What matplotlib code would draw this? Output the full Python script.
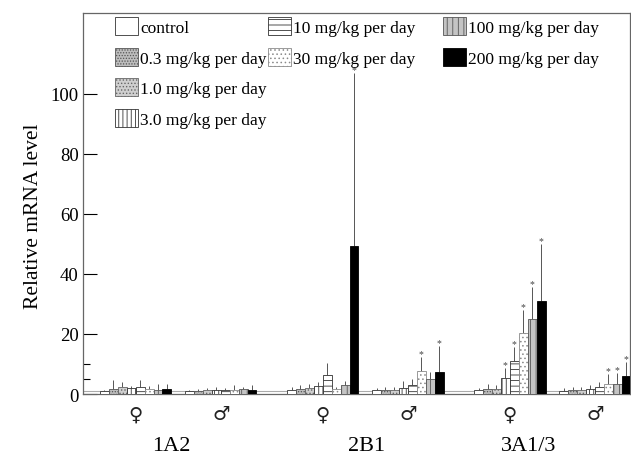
import numpy as np
import matplotlib
matplotlib.use("Agg")
import matplotlib.pyplot as plt
from matplotlib.patches import Patch
from matplotlib.transforms import blended_transform_factory

plt.rcParams['font.family'] = ['Liberation Serif', 'DejaVu Sans']
plt.rcParams['hatch.linewidth'] = 0.6

# doses (legend order)
doses = ["control", "0.3 mg/kg per day", "1.0 mg/kg per day", "3.0 mg/kg per day",
         "10 mg/kg per day", "30 mg/kg per day", "100 mg/kg per day", "200 mg/kg per day"]

genes = ["1A2", "2B1", "3A1/3"]
sexes = ["\u2640", "\u2642", "\u2640", "\u2642", "\u2640", "\u2642"]

# mean relative mRNA level, one row per gene/sex group
means = [
    [1.0, 1.6, 2.2, 1.9, 2.4, 1.8, 1.5, 1.6],    # 1A2 female
    [1.0, 1.1, 1.2, 1.3, 1.2, 1.4, 1.6, 1.3],    # 1A2 male
    [1.5, 1.8, 2.0, 2.8, 6.2, 1.8, 3.0, 49.3],   # 2B1 female
    [1.2, 1.3, 1.5, 2.0, 3.0, 7.8, 5.0, 7.5],    # 2B1 male
    [1.2, 1.6, 1.8, 5.5, 11.0, 20.3, 25.0, 31.0],  # 3A1/3 female
    [1.1, 1.3, 1.4, 1.6, 2.3, 3.5, 3.5, 6.0],    # 3A1/3 male
]
# top of the (upper) error bar
err_top = [
    [1.4, 4.6, 4.0, 2.7, 4.7, 2.6, 3.3, 3.4],
    [1.5, 1.8, 2.0, 2.2, 2.0, 3.0, 2.5, 3.0],
    [2.5, 3.0, 3.3, 4.0, 10.5, 2.5, 4.5, 107.0],
    [2.0, 2.2, 2.5, 4.5, 5.0, 12.5, 7.3, 16.0],
    [2.0, 3.2, 3.0, 8.7, 15.7, 28.0, 35.7, 50.0],
    [2.0, 2.3, 2.5, 3.0, 4.0, 6.7, 7.0, 10.7],
]
# bars marked with an asterisk
stars = [[], [], [7], [5, 7], [3, 4, 5, 6, 7], [5, 6, 7]]

faces = ["white", "#bdbdbd", "#cfcfcf", "white", "white", "white", "#c4c4c4", "black"]
hatches = [None, "......", ".....", "||||", "---", "....", "|||", None]
edges = ["#333333", "#555555", "#666666", "#333333", "#333333", "#8a8a8a", "#555555", "black"]

group_x = np.array([0, 1, 2.2, 3.2, 4.4, 5.4])
gene_x = [0.42, 2.72, 4.62]
bar_w = 0.105

fig = plt.figure(figsize=(6.31, 4.60), dpi=100)
ax = fig.add_axes([0.1315, 0.1413, 0.8665, 0.8283])

offsets = (np.arange(len(doses)) - (len(doses) - 1) / 2) * bar_w
for g in range(len(means)):
    vals = np.array(means[g])
    tops = np.array(err_top[g])
    xs = group_x[g] + offsets
    for i in range(len(doses)):
        ax.bar(xs[i], vals[i], width=bar_w, color=faces[i], edgecolor=edges[i],
               hatch=hatches[i], linewidth=0.6, zorder=3)
    ax.errorbar(xs, vals, yerr=[np.zeros_like(vals), tops - vals], fmt="none",
                ecolor="#555555", elinewidth=0.7, capsize=0, zorder=2)
    for i in stars[g]:
        ax.text(xs[i], tops[i] - 0.5, "*", ha="center", va="bottom", fontsize=7,
                color="#444444")

ax.axhline(1, color="#aaaaaa", lw=0.8, zorder=1)

ax.set_xlim(-0.62, 5.81)
ax.set_ylim(0, 127)
ax.set_yticks([0, 20, 40, 60, 80, 100])
ax.set_yticks([5, 10], minor=True)
ax.tick_params(axis="y", direction="in", length=10, width=0.8, labelsize=13.5, pad=3)
ax.tick_params(axis="y", which="minor", direction="in", length=5, width=0.8)
ax.set_xticks([])
for s in ax.spines.values():
    s.set_color("#666666")
    s.set_linewidth(0.9)

ax.set_ylabel("Relative mRNA level", fontsize=15.5)
ax.yaxis.set_label_coords(-0.073, 0.47)

trans = blended_transform_factory(ax.transData, ax.transAxes)
for x, s in zip(group_x, sexes):
    ax.text(x, -0.052, s, transform=trans, ha="center", va="center", fontsize=14,
            family="DejaVu Sans", color="#222222")
for x, gname in zip(gene_x, genes):
    ax.text(x, -0.136, gname, transform=trans, ha="center", va="center", fontsize=16)

handles = [Patch(facecolor=faces[i], edgecolor=edges[i], hatch=hatches[i], linewidth=0.6)
           for i in range(len(doses))]
cols = [(0, 4, 0.051), (4, 6, 0.331), (6, 8, 0.651)]
legs = []
for a, b, lx in cols:
    leg = ax.legend(handles[a:b], doses[a:b], loc="upper left", bbox_to_anchor=(lx, 1.0),
                    frameon=False, fontsize=12.5, handlelength=1.3, handleheight=1.2,
                    handletextpad=0.15, labelspacing=0.68, borderpad=0.25,
                    borderaxespad=0.0)
    legs.append(leg)
for leg in legs[:-1]:
    ax.add_artist(leg)

fig.savefig("out.png", dpi=100)
